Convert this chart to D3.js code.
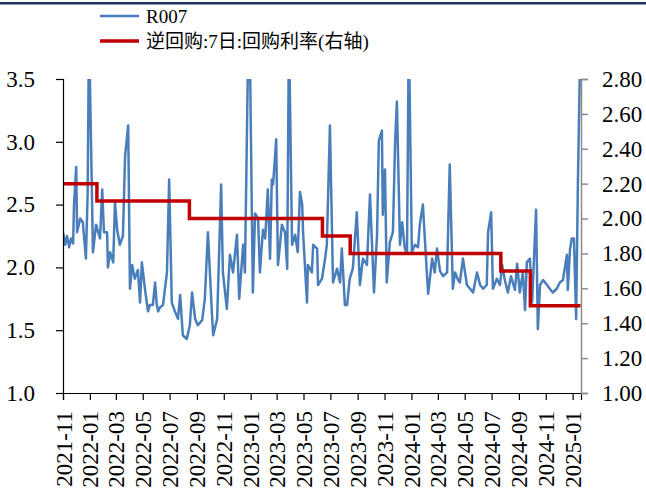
<!DOCTYPE html>
<html>
<head>
<meta charset="utf-8">
<script src="https://cdn.jsdelivr.net/npm/d3@7"></script>
<style>
  body { margin: 0; background: #fff; }
</style>
</head>
<body>
<div id="chart"></div>
<script>
// R007 daily series (values > 3.5 get clipped by the axis)
const r007Dates = [
  "2021-11-01","2021-11-06","2021-11-10","2021-11-15","2021-11-19","2021-11-24","2021-11-26","2021-12-01","2021-12-03","2021-12-10",
  "2021-12-16","2021-12-23","2021-12-27","2021-12-30","2022-01-08","2022-01-15","2022-01-24","2022-01-29","2022-02-02","2022-02-09",
  "2022-02-11","2022-02-16","2022-02-23","2022-02-27","2022-03-04","2022-03-10","2022-03-17","2022-03-22","2022-03-29","2022-04-02",
  "2022-04-07","2022-04-13","2022-04-20","2022-04-25","2022-04-29","2022-05-06","2022-05-13","2022-05-17","2022-05-24","2022-05-29",
  "2022-06-02","2022-06-05","2022-06-09","2022-06-16","2022-06-25","2022-06-30","2022-07-06","2022-07-13","2022-07-20","2022-07-25",
  "2022-07-31","2022-08-09","2022-08-16","2022-08-21","2022-08-28","2022-09-03","2022-09-13","2022-09-19","2022-09-26","2022-10-05",
  "2022-10-08","2022-10-17","2022-10-26","2022-10-30","2022-11-08","2022-11-15","2022-11-22","2022-12-01","2022-12-06","2022-12-15",
  "2022-12-19","2022-12-27","2022-12-30","2023-01-06","2023-01-11","2023-01-18","2023-01-22","2023-01-29","2023-02-03","2023-02-09",
  "2023-02-14","2023-02-18","2023-02-21","2023-02-28","2023-03-04","2023-03-13","2023-03-20","2023-03-25","2023-03-29","2023-04-05",
  "2023-04-12","2023-04-18","2023-04-23","2023-04-28","2023-04-30","2023-05-09","2023-05-11","2023-05-20","2023-05-23","2023-06-01",
  "2023-06-03","2023-06-12","2023-06-19","2023-06-23","2023-06-30","2023-07-07","2023-07-16","2023-07-23","2023-07-27","2023-08-03",
  "2023-08-08","2023-08-14","2023-08-21","2023-08-30","2023-09-06","2023-09-13","2023-09-22","2023-09-29","2023-10-08","2023-10-15",
  "2023-10-19","2023-10-26","2023-10-28","2023-11-02","2023-11-06","2023-11-13","2023-11-20","2023-11-25","2023-11-29","2023-12-06",
  "2023-12-11","2023-12-17","2023-12-22","2023-12-26","2024-01-02","2024-01-09","2024-01-16","2024-01-20","2024-01-27","2024-02-05",
  "2024-02-08","2024-02-17","2024-02-23","2024-02-28","2024-03-06","2024-03-13","2024-03-22","2024-03-28","2024-04-04","2024-04-09",
  "2024-04-16","2024-04-20","2024-04-27","2024-05-06","2024-05-13","2024-05-20","2024-05-29","2024-06-05","2024-06-12","2024-06-20",
  "2024-06-23","2024-06-30","2024-07-04","2024-07-13","2024-07-20","2024-07-25","2024-07-31","2024-08-07","2024-08-14","2024-08-23",
  "2024-08-28","2024-09-03","2024-09-10","2024-09-15","2024-09-19","2024-09-26","2024-10-01","2024-10-10","2024-10-14","2024-10-19",
  "2024-10-26","2024-11-04","2024-11-10","2024-11-17","2024-11-26","2024-12-03","2024-12-10","2024-12-19","2024-12-21","2024-12-26",
  "2024-12-30","2025-01-04","2025-01-09","2025-01-13","2025-01-19"
];
const r007Values = [
  2.28,2.18,2.25,2.16,2.23,2.19,2.50,2.80,2.28,2.39,
  2.36,2.07,2.60,3.90,2.12,2.34,2.23,2.62,2.28,2.28,
  2.00,2.12,2.04,2.52,2.30,2.18,2.25,2.89,3.13,1.83,
  2.02,1.91,1.98,1.72,2.04,1.83,1.65,1.70,1.70,1.88,
  1.70,1.65,1.68,1.70,1.96,2.70,1.72,1.65,1.59,1.78,
  1.46,1.43,1.54,1.80,1.59,1.54,1.58,1.75,2.28,1.64,
  1.46,1.59,2.66,1.96,1.67,2.10,1.96,2.26,1.75,2.18,
  1.96,3.90,3.80,1.80,2.43,2.39,1.96,2.30,2.23,2.62,
  2.07,2.70,2.66,3.02,2.02,2.34,2.28,1.99,3.90,2.18,
  2.26,2.12,2.60,2.50,2.28,1.72,2.02,1.96,2.18,2.15,
  1.86,1.91,2.07,2.18,3.13,1.88,1.99,1.88,2.15,1.70,
  1.70,1.91,1.99,2.44,1.86,2.07,2.02,2.58,1.80,2.26,
  3.01,3.09,2.42,2.78,1.88,2.20,2.28,3.00,3.32,2.18,
  2.36,2.15,2.11,3.90,2.12,2.18,2.16,2.34,2.50,1.96,
  1.79,2.07,1.96,2.15,1.97,1.93,1.96,2.82,1.83,1.96,
  1.90,1.88,2.07,1.86,1.83,1.80,1.96,1.86,1.83,1.86,
  2.28,2.44,1.83,1.91,1.86,2.02,1.90,1.80,1.93,1.82,
  2.03,1.80,1.96,1.66,2.04,2.07,1.72,2.46,1.51,1.86,
  1.90,1.86,1.83,1.80,1.83,1.88,1.90,2.10,1.82,2.14,
  2.23,2.23,1.59,2.68,3.90
];

// 7-day reverse repo rate, step changes (right axis)
const repoDates = ["2021-11-01","2022-01-17","2022-08-15","2023-06-13","2023-08-15","2024-07-22","2024-09-27","2025-01-19"];
const repoValues = [2.20, 2.10, 2.00, 1.90, 1.80, 1.70, 1.50, 1.50];

const leftTicks = [1.0, 1.5, 2.0, 2.5, 3.0, 3.5];
const rightTicks = [1.00, 1.20, 1.40, 1.60, 1.80, 2.00, 2.20, 2.40, 2.60, 2.80];
const seriesNames = ["R007", "逆回购:7日:回购利率(右轴)"];
const seriesColors = ["#4a7ebb", "#c00000"];

const serif = "'Liberation Serif', 'Times New Roman', serif";
const cjk = "'Liberation Serif', 'Noto Sans CJK SC', serif";

const width = 646, height = 493;
const margin = { top: 79, right: 65, bottom: 100, left: 63 };
const parse = d3.timeParse("%Y-%m-%d");

const r007 = r007Dates.map((d, i) => ({ date: parse(d), value: r007Values[i] }));
const repo = repoDates.map((d, i) => ({ date: parse(d), value: repoValues[i] }));

const svg = d3.select("#chart").append("svg")
  .attr("width", width)
  .attr("height", height);

// dark rule across the top
svg.append("rect")
  .attr("x", 0).attr("y", 2)
  .attr("width", width).attr("height", 2.5)
  .attr("fill", "#1f3257");

const x = d3.scaleTime()
  .domain([parse("2021-11-01"), parse("2025-01-20")])
  .range([margin.left, width - margin.right]);
const yL = d3.scaleLinear().domain([1.0, 3.5]).range([height - margin.bottom, margin.top]);
const yR = d3.scaleLinear().domain([1.0, 2.8]).range([height - margin.bottom, margin.top]);

svg.append("clipPath").attr("id", "plot")
  .append("rect")
  .attr("x", margin.left).attr("y", margin.top)
  .attr("width", width - margin.left - margin.right)
  .attr("height", height - margin.top - margin.bottom);

// R007
svg.append("path")
  .datum(r007)
  .attr("clip-path", "url(#plot)")
  .attr("fill", "none")
  .attr("stroke", seriesColors[0])
  .attr("stroke-width", 2.5)
  .attr("stroke-linejoin", "round")
  .attr("d", d3.line().x(d => x(d.date)).y(d => yL(d.value)));

// reverse repo step line
svg.append("path")
  .datum(repo)
  .attr("fill", "none")
  .attr("stroke", seriesColors[1])
  .attr("stroke-width", 3.5)
  .attr("d", d3.line().curve(d3.curveStepAfter).x(d => x(d.date)).y(d => yR(d.value)));

// axes
const xTicks = d3.timeMonth.every(2).range(parse("2021-11-01"), parse("2025-01-02"));
const gx = svg.append("g")
  .attr("transform", `translate(0,${height - margin.bottom})`)
  .call(d3.axisBottom(x).tickValues(xTicks).tickFormat(d3.timeFormat("%Y-%m")).tickSizeOuter(0).tickSize(7));
gx.selectAll("text")
  .attr("transform", "rotate(-90)")
  .attr("text-anchor", "end")
  .attr("x", -18).attr("y", 0).attr("dy", "0.35em");

const gl = svg.append("g")
  .attr("transform", `translate(${margin.left},0)`)
  .call(d3.axisLeft(yL).tickValues(leftTicks).tickFormat(d3.format(".1f")).tickSizeOuter(0).tickSize(7).tickPadding(21));

const gr = svg.append("g")
  .attr("transform", `translate(${width - margin.right},0)`)
  .call(d3.axisRight(yR).tickValues(rightTicks).tickFormat(d3.format(".2f")).tickSizeOuter(0).tickSize(7).tickPadding(14));

[gx, gl, gr].forEach(g => {
  g.attr("font-family", serif).attr("font-size", 23);
  g.selectAll("text").style("font-family", serif).style("font-size", "23px").attr("fill", "#000");
  g.selectAll("line, path").attr("stroke", "#000").attr("stroke-width", 1.2);
});
gr.selectAll("line, path").attr("stroke", "#8c8c8c").attr("stroke-width", 1.5);

// legend
const legend = svg.append("g");
seriesNames.forEach((name, i) => {
  const ly = 16 + i * 25;
  legend.append("line")
    .attr("x1", 100).attr("x2", 139)
    .attr("y1", ly).attr("y2", ly)
    .attr("stroke", seriesColors[i])
    .attr("stroke-width", i ? 3.5 : 2.5);
  legend.append("text")
    .attr("x", 146).attr("y", ly)
    .attr("dy", "0.35em")
    .style("font-family", cjk)
    .style("font-size", "19px")
    .text(name);
});
</script>
</body>
</html>
